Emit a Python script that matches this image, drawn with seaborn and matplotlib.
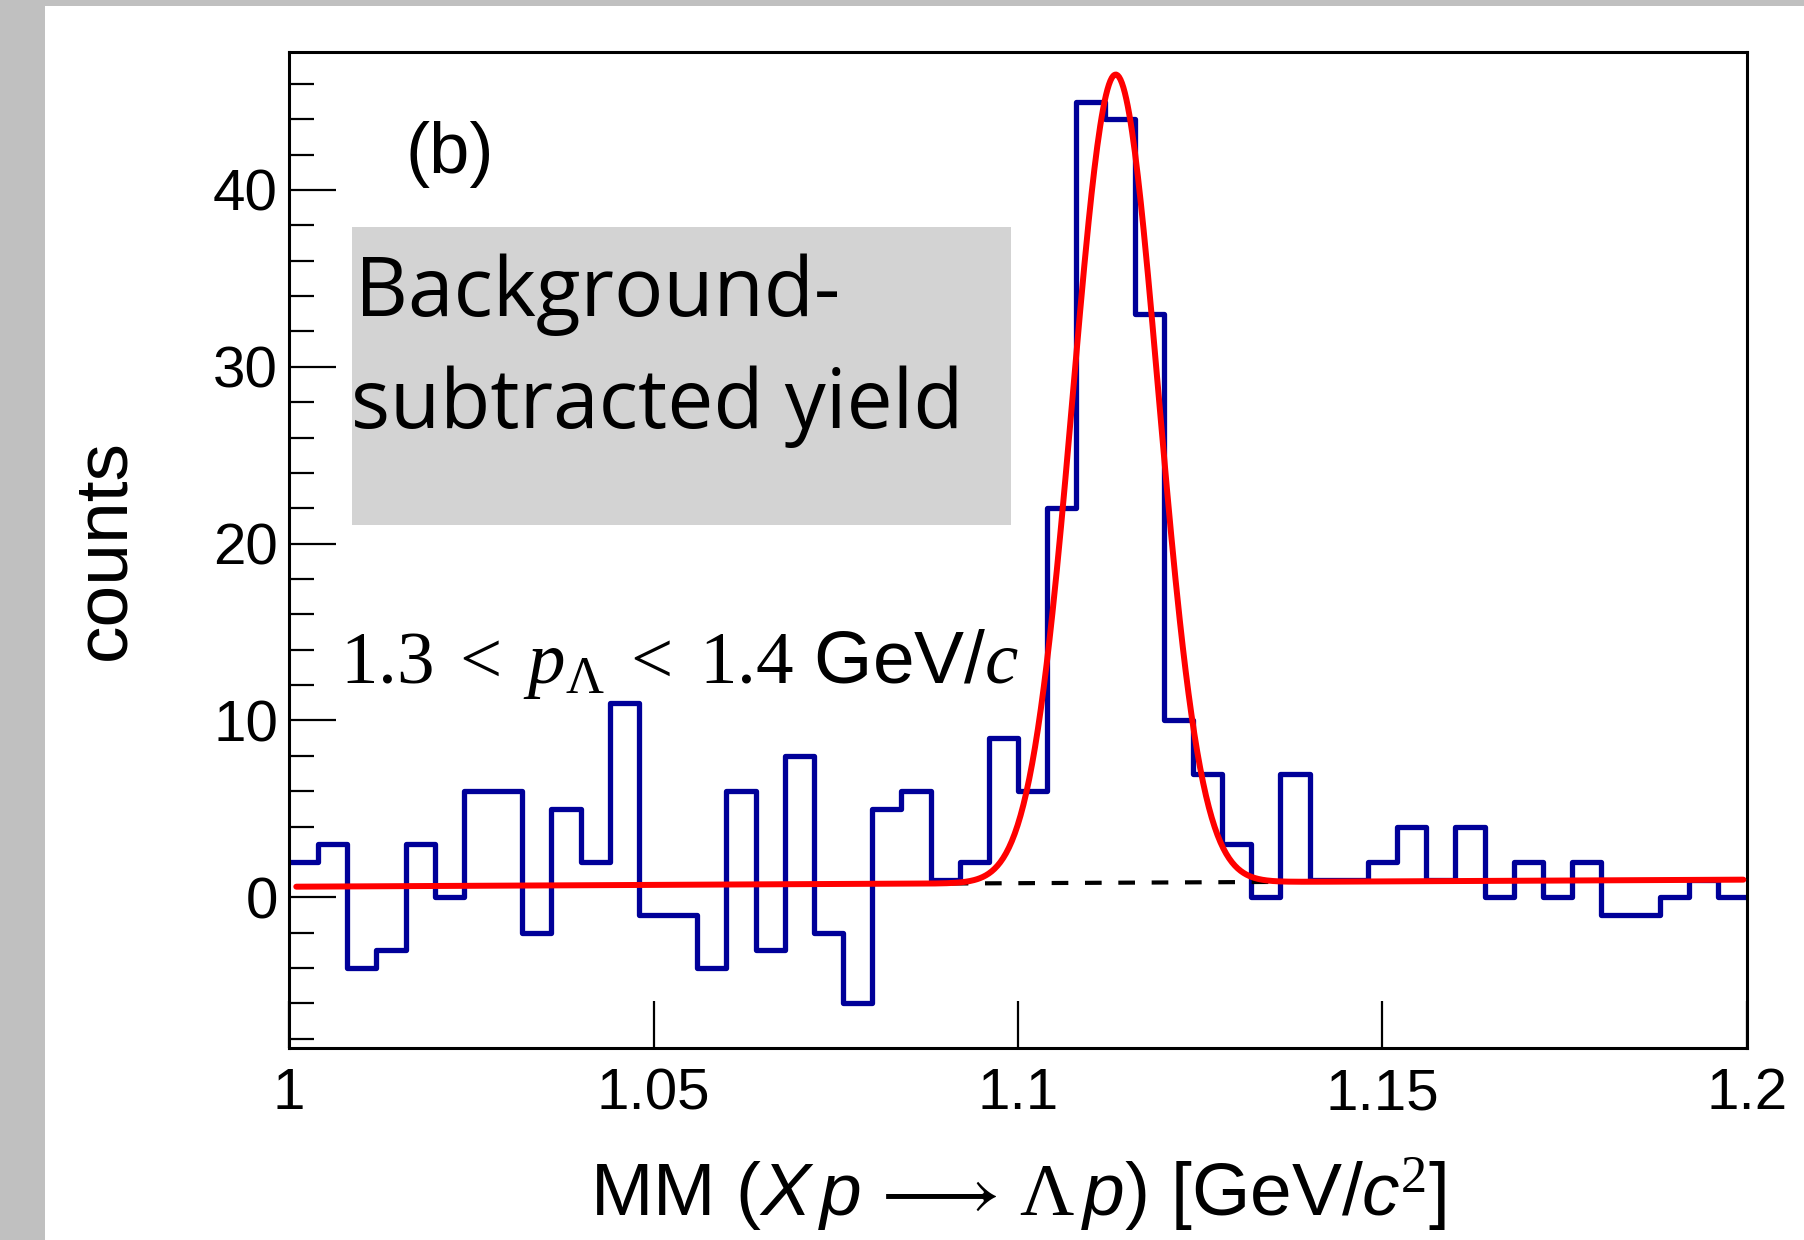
import numpy as np
import pandas as pd
import matplotlib
matplotlib.use("Agg")
import matplotlib.pyplot as plt
from matplotlib.patches import Rectangle
import seaborn as sns

# ---------------- data ----------------
bin_start = 1.0
bin_stop = 1.2
counts = [2, 3, -4, -3, 3, 0, 6, 6, -2, 5,
          2, 11, -1, -1, -4, 6, -3, 8, -2, -6,
          5, 6, 1, 2, 9, 6, 22, 45, 44, 33,
          10, 7, 3, 0, 7, 1, 1, 2, 4, 1,
          4, 0, 2, 0, 2, -1, -1, 0, 1, 0]

# fit (Gaussian + linear background), parameters
fit_mean = 1.1134
fit_sigma = 0.00586
fit_amp = 45.7
bg_at_one = 0.6
bg_slope = 2.0
fit_range = [1.001, 1.1995]
bg_dash_range = [1.0909, 1.1355]

x_ticks = [1.0, 1.05, 1.1, 1.15, 1.2]
x_tick_labels = ["1", "1.05", "1.1", "1.15", "1.2"]
y_ticks = [0, 10, 20, 30, 40]
y_tick_labels = ["0", "10", "20", "30", "40"]

# ---------------- style ----------------
sns.set_theme(style="ticks")
plt.rcParams['font.family'] = ['Liberation Sans', 'DejaVu Sans']
plt.rcParams['text.color'] = 'black'
plt.rcParams['axes.labelcolor'] = 'black'
plt.rcParams['xtick.color'] = 'black'
plt.rcParams['ytick.color'] = 'black'
plt.rcParams['mathtext.fontset'] = 'custom'
plt.rcParams['mathtext.rm'] = 'Liberation Serif'
plt.rcParams['mathtext.it'] = 'Liberation Serif:italic'
plt.rcParams['mathtext.sf'] = 'Liberation Sans'
plt.rcParams['mathtext.bf'] = 'Liberation Sans:italic'

W, H = 1804, 1240
fig = plt.figure(figsize=(W / 100, H / 100), dpi=100)
fig.patch.set_facecolor('#c0c0c0')

# white canvas inside the grey frame
fig.patches.append(Rectangle((45 / W, 0), 1 - 45 / W, 1 - 6 / H, transform=fig.transFigure,
                             facecolor='white', edgecolor='none', zorder=-15))

ax = fig.add_axes([289 / W, 1 - 1048 / H, (1747 - 289) / W, (1048 - 52) / H])
ax.set_facecolor('white')

nb = len(counts)
bw = (bin_stop - bin_start) / nb
centers = bin_start + bw * (np.arange(nb) + 0.5)
df = pd.DataFrame({"mm": centers, "w": counts})
sns.histplot(data=df, x="mm", weights="w", bins=nb, binrange=(bin_start, bin_stop),
             element="step", fill=False, color="#000099", linewidth=3.8, ax=ax)

xf = np.linspace(fit_range[0], fit_range[1], 1000)
bg = bg_at_one + bg_slope * (xf - 1.0)
yf = bg + fit_amp * np.exp(-0.5 * ((xf - fit_mean) / fit_sigma) ** 2)
xd = np.linspace(bg_dash_range[0], bg_dash_range[1], 100)
yd = bg_at_one + bg_slope * (xd - 1.0)
sns.lineplot(x=xd, y=yd, color='black', linestyle=(0, (4, 4)), linewidth=3.0, ax=ax, zorder=3)
sns.lineplot(x=xf, y=yf, color='#ff0000', linewidth=4.3, ax=ax, zorder=4)

ax.set_xlim(1.0, 1.2)
ax.set_ylim(-8.52, 47.8)
ax.set_xticks(x_ticks)
ax.set_xticklabels(x_tick_labels)
ax.set_yticks(y_ticks)
ax.set_yticklabels(y_tick_labels)
ax.set_yticks(np.arange(-8, 48, 2), minor=True)
ax.tick_params(axis='both', which='major', direction='in', length=34, width=1.6,
               labelsize=42, colors='black')
ax.tick_params(axis='y', which='minor', direction='in', length=18, width=1.6, left=True)
ax.tick_params(axis='x', which='major', pad=14)
ax.tick_params(axis='y', which='major', pad=8)
for s in ax.spines.values():
    s.set_linewidth(2.2)
    s.set_color('black')

ax.set_xlabel(r"MM ($\mathbf{X}\,\mathbf{p}\,\longrightarrow\,\Lambda\,\mathbf{p}$) [GeV/$\mathbf{c}^{2}$]",
              fontsize=54, labelpad=24, color='black')
ax.set_ylabel("counts", fontsize=54, labelpad=53, color='black')

fig.text(450 / W, 1 - 155 / H, "(b)", fontsize=52, ha='center', va='center', color='black')

fig.patches.append(Rectangle((352 / W, 1 - 525 / H), (1011 - 352) / W, (525 - 227) / H,
                             transform=fig.transFigure, facecolor='#d3d3d3',
                             edgecolor='none', zorder=1))
fig.text(355 / W, 1 - 316 / H, "Background-", fontsize=59, family='Open Sans',
         ha='left', va='baseline', zorder=2, color='black')
fig.text(351 / W, 1 - 428 / H, "subtracted yield", fontsize=59, family='Open Sans',
         ha='left', va='baseline', zorder=2, color='black')

fig.text(340 / W, 1 - 683 / H,
         r"$\mathrm{1.3}\;<\;p_{\Lambda}\;<\;\mathrm{1.4}$ $\mathsf{GeV}$/$c$",
         fontsize=54, ha='left', va='baseline', zorder=5, color='black')

fig.savefig("out.png", dpi=100, facecolor=fig.get_facecolor())
